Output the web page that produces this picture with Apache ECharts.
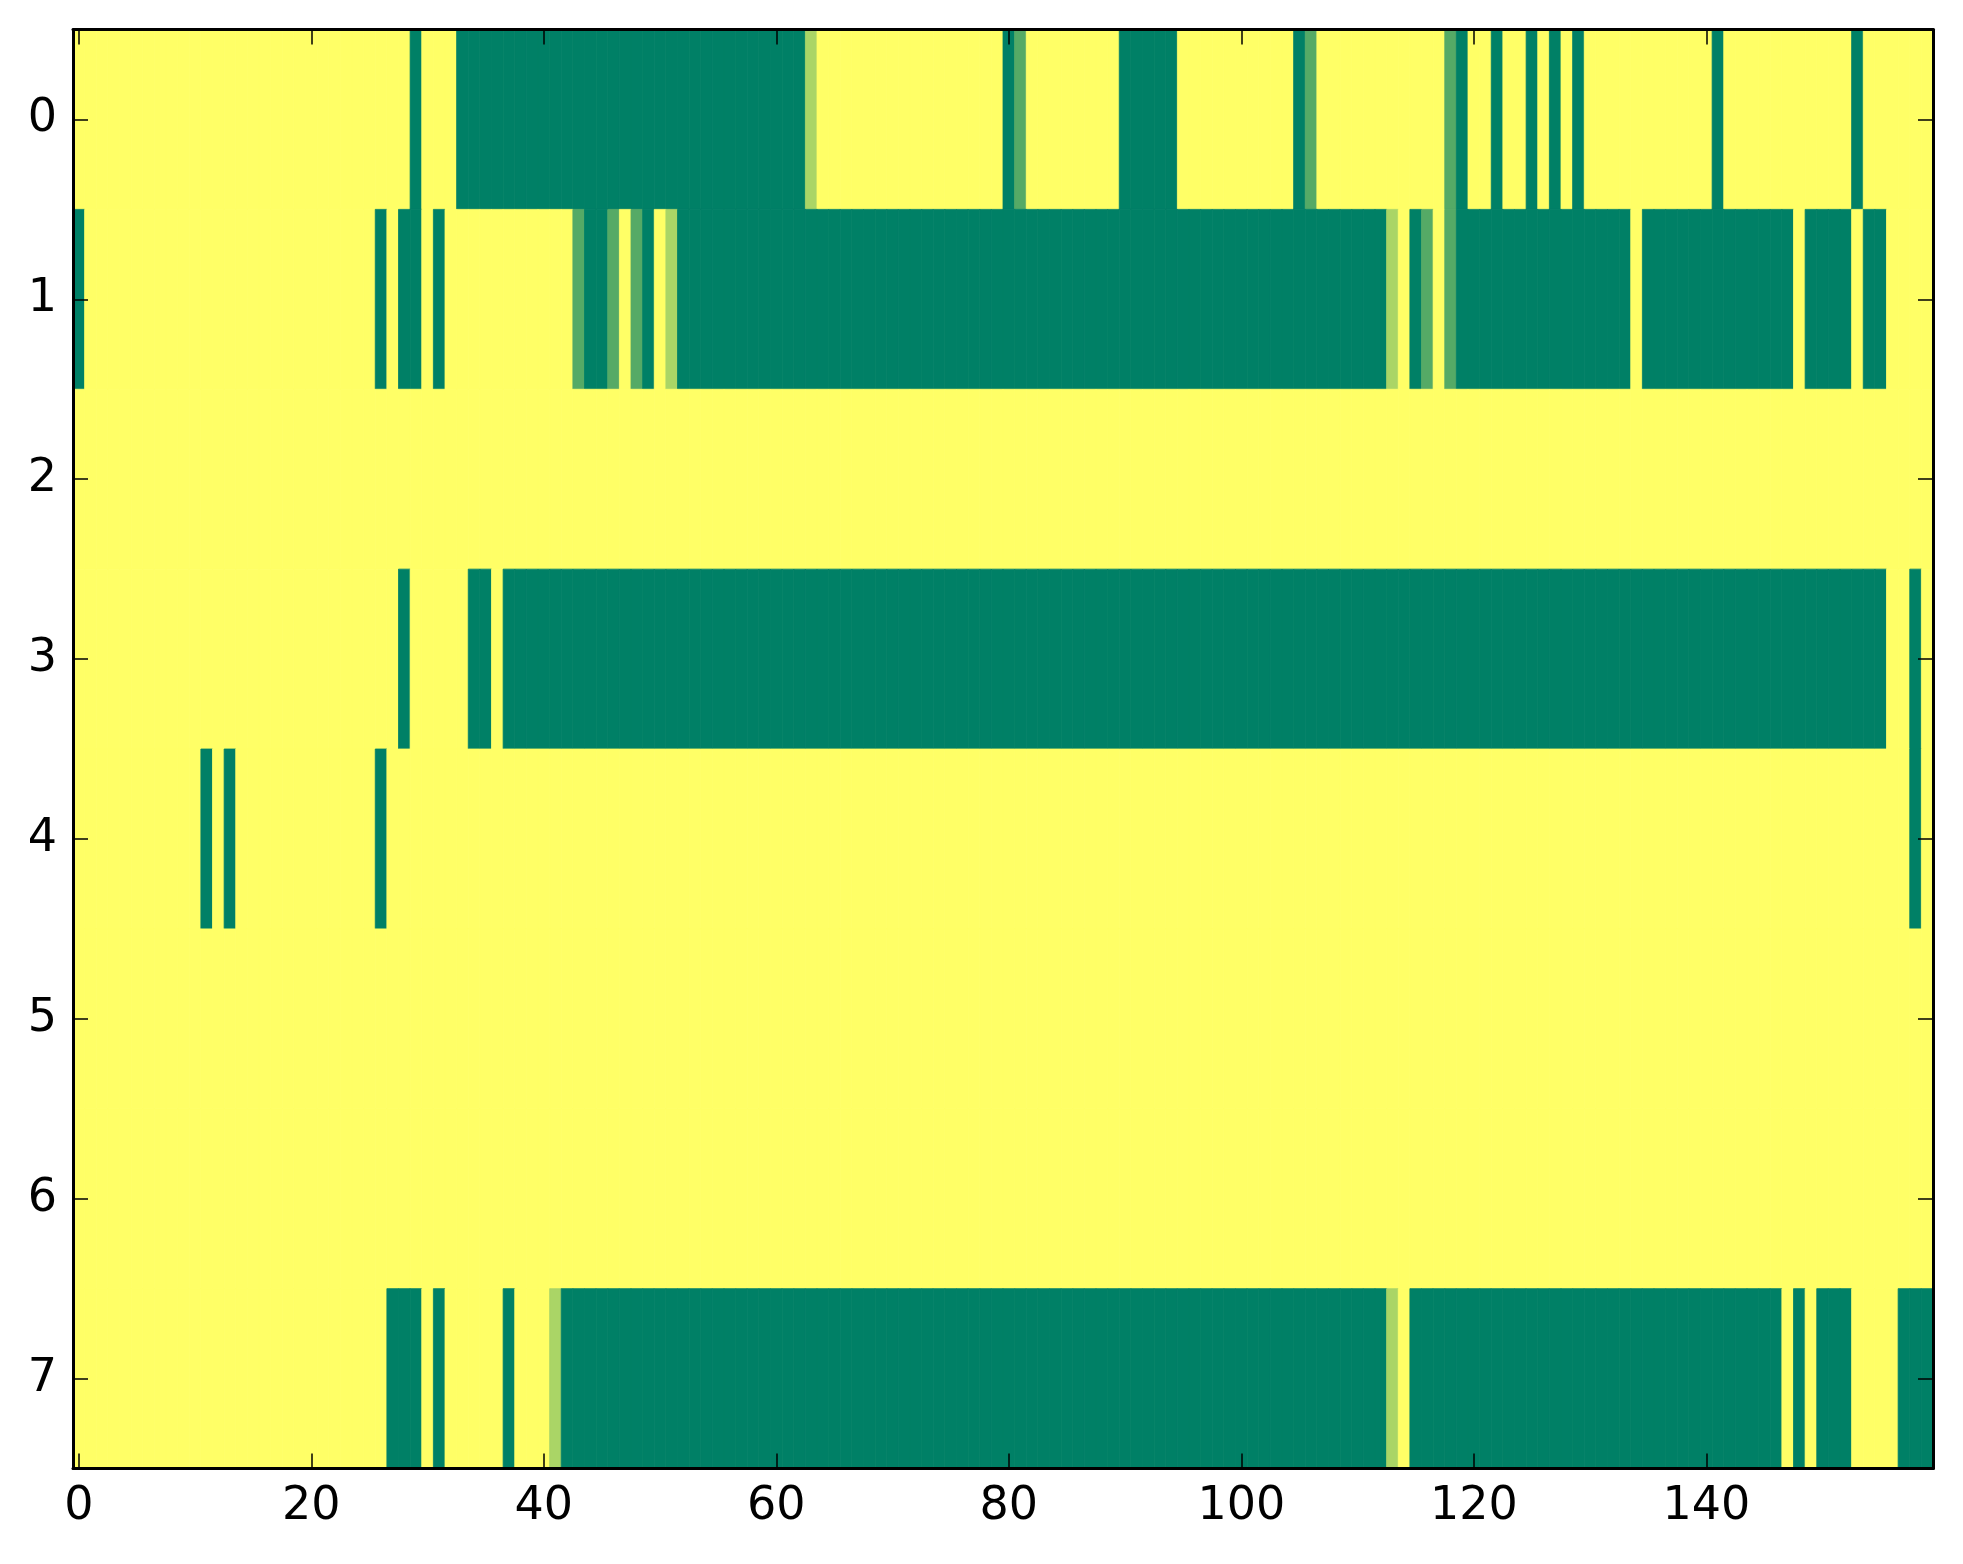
<!DOCTYPE html>
<html>
<head>
<meta charset="utf-8">
<script src="https://cdn.jsdelivr.net/npm/echarts@6/dist/echarts.min.js"></script>
<style>
html,body{margin:0;padding:0;background:#ffffff;}
#chart{width:1963px;height:1564px;}
</style>
</head>
<body>
<div id="chart"></div>
<script>
// Column categories (0..159) and row categories (0..7)
const xCategories = Array.from({length: 160}, (_, i) => String(i));
const yCategories = ['0', '1', '2', '3', '4', '5', '6', '7'];
const xTickLabels = [0, 20, 40, 60, 80, 100, 120, 140];
const yTickLabels = [0, 1, 2, 3, 4, 5, 6, 7];

// Cell values in thirds (0 = 0, 1 = 1/3, 2 = 2/3, 3 = 1), read column by column, groups of ten
const row0 = "0000000000 0000000000 0000000003 0003333333 3333333333 3333333333 3331000000 0000000000 3200000000 3333300000 0000032000 0000000023 0030030303 0000000000 0300000000 0003000000";
const row1 = "3000000000 0000000000 0000003033 0300000000 0002332023 0133333333 3333333333 3333333333 3333333333 3333333333 3333333333 3331032023 3333333333 3333033333 3333333303 3330330000";
const row2 = "0000000000 0000000000 0000000000 0000000000 0000000000 0000000000 0000000000 0000000000 0000000000 0000000000 0000000000 0000000000 0000000000 0000000000 0000000000 0000000000";
const row3 = "0000000000 0000000000 0000000030 0000330333 3333333333 3333333333 3333333333 3333333333 3333333333 3333333333 3333333333 3333333333 3333333333 3333333333 3333333333 3333330030";
const row4 = "0000000000 0303000000 0000003000 0000000000 0000000000 0000000000 0000000000 0000000000 0000000000 0000000000 0000000000 0000000000 0000000000 0000000000 0000000000 0000000030";
const row5 = "0000000000 0000000000 0000000000 0000000000 0000000000 0000000000 0000000000 0000000000 0000000000 0000000000 0000000000 0000000000 0000000000 0000000000 0000000000 0000000000";
const row6 = "0000000000 0000000000 0000000000 0000000000 0000000000 0000000000 0000000000 0000000000 0000000000 0000000000 0000000000 0000000000 0000000000 0000000000 0000000000 0000000000";
const row7 = "0000000000 0000000000 0000000333 0300000300 0133333333 3333333333 3333333333 3333333333 3333333333 3333333333 3333333333 3331033333 3333333333 3333333333 3333333030 3330000333";

const rows = [row0, row1, row2, row3, row4, row5, row6, row7];

const data = [];
rows.forEach((s, r) => {
  const levels = s.replace(/\s+/g, '').split('').map(Number);
  levels.forEach((lv, c) => data.push([c, r, lv / 3]));
});

const chart = echarts.init(document.getElementById('chart'), null, {renderer: 'canvas'});

const FONT = 'DejaVu Sans';
const lineStyle = {color: '#000', width: 3};
const tickStyle = {color: '#000', width: 1.5};

const xInterval = (idx) => xTickLabels.indexOf(idx) >= 0;
const yInterval = (idx) => yTickLabels.indexOf(idx) >= 0;

function renderCell(params, api) {
  const p = api.coord([api.value(0), api.value(1)]);
  const size = api.size([1, 1]);
  const color = api.visual('color');
  return {
    type: 'rect',
    shape: {x: p[0] - size[0] / 2, y: p[1] - size[1] / 2, width: size[0], height: size[1]},
    style: {fill: color, stroke: color, lineWidth: 0.8},
    silent: true
  };
}

chart.setOption({
  animation: false,
  backgroundColor: '#ffffff',
  grid: {left: 73, right: 30, top: 29.5, bottom: 95.5, containLabel: false},
  xAxis: [
    {
      type: 'category', data: xCategories, position: 'bottom', z: 10,
      axisLine: {show: true, lineStyle: lineStyle},
      axisTick: {show: true, inside: true, length: 15, alignWithLabel: true, interval: xInterval, lineStyle: tickStyle},
      axisLabel: {show: true, interval: xInterval, margin: 16, fontFamily: FONT, fontSize: 46, color: '#000'},
      splitLine: {show: false}
    },
    {
      type: 'category', data: xCategories, position: 'top', z: 10,
      axisLine: {show: true, lineStyle: lineStyle},
      axisTick: {show: true, inside: true, length: 15, alignWithLabel: true, interval: xInterval, lineStyle: tickStyle},
      axisLabel: {show: false},
      splitLine: {show: false}
    }
  ],
  yAxis: [
    {
      type: 'category', data: yCategories, inverse: true, position: 'left', z: 10,
      axisLine: {show: true, lineStyle: lineStyle},
      axisTick: {show: true, inside: true, length: 15, alignWithLabel: true, interval: yInterval, lineStyle: tickStyle},
      axisLabel: {show: true, interval: 0, margin: 16, fontFamily: FONT, fontSize: 46, color: '#000'},
      splitLine: {show: false}
    },
    {
      type: 'category', data: yCategories, inverse: true, position: 'right', z: 10,
      axisLine: {show: true, lineStyle: lineStyle},
      axisTick: {show: true, inside: true, length: 15, alignWithLabel: true, interval: yInterval, lineStyle: tickStyle},
      axisLabel: {show: false},
      splitLine: {show: false}
    }
  ],
  visualMap: {
    type: 'continuous', show: false, min: 0, max: 1, dimension: 2,
    seriesIndex: 0,
    inRange: {color: ['#ffff66', '#008066']}
  },
  series: [{
    type: 'custom',
    xAxisIndex: 0, yAxisIndex: 0,
    renderItem: renderCell,
    encode: {x: 0, y: 1},
    clip: true,
    data: data
  }]
});
</script>
</body>
</html>
